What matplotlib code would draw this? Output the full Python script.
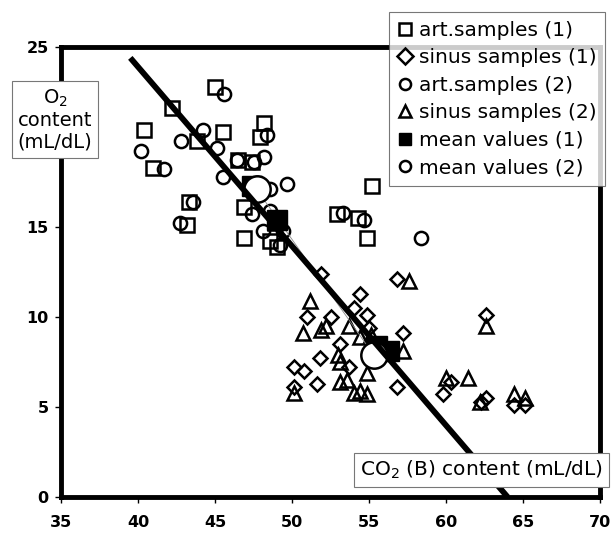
import matplotlib
matplotlib.use("Agg")
import matplotlib.pyplot as plt

# art.samples (1) - squares
art1_x = [45.0, 42.2, 40.4, 41.0, 43.8, 45.5, 43.3, 43.2, 48.2, 47.9, 46.5, 47.4,
          46.9, 46.9, 48.6, 49.0, 48.9, 52.9, 54.3, 54.9, 55.2]
art1_y = [22.8, 21.6, 20.4, 18.3, 19.8, 20.3, 16.4, 15.1, 20.8, 20.0, 18.7, 18.6,
          16.1, 14.4, 14.2, 13.9, 15.2, 15.7, 15.5, 14.4, 17.3]

# sinus samples (1) - diamonds
sin1_x = [51.9, 56.8, 54.4, 54.0, 52.5, 54.9, 51.0, 57.2, 53.1, 51.8, 50.1, 50.8,
          51.6, 50.1, 53.7, 56.8, 59.8, 60.3, 62.6, 62.6, 62.3, 64.4, 65.1, 55.0]
sin1_y = [12.4, 12.1, 11.3, 10.5, 10.0, 10.1, 10.0, 9.1, 8.5, 7.7, 7.2, 7.0,
          6.3, 6.1, 7.2, 6.1, 5.7, 6.4, 10.1, 5.5, 5.3, 5.1, 5.1, 9.4]

# art.samples (2) - circles
art2_x = [45.6, 44.2, 42.8, 40.2, 41.7, 45.1, 45.5, 43.6, 42.7, 48.4, 46.4, 47.5,
          48.2, 49.7, 48.6, 48.6, 47.4, 48.1, 49.4, 49.2, 53.3, 54.7, 58.4]
art2_y = [22.4, 20.4, 19.8, 19.2, 18.2, 19.4, 17.8, 16.4, 15.2, 20.1, 18.7, 18.6,
          18.9, 17.4, 17.1, 15.9, 15.7, 14.8, 14.8, 14.0, 15.8, 15.4, 14.4]

# sinus samples (2) - triangles
sin2_x = [51.2, 57.6, 50.7, 51.9, 52.2, 53.7, 54.4, 55.1, 57.2, 53.1, 53.0, 54.9,
          53.6, 53.1, 50.1, 54.0, 54.4, 54.9, 62.6, 60.0, 61.4, 64.4, 65.1, 62.2]
sin2_y = [10.9, 12.0, 9.1, 9.3, 9.5, 9.5, 8.9, 9.0, 8.1, 7.5, 7.9, 6.9,
          6.5, 6.4, 5.8, 5.8, 5.9, 5.7, 9.5, 6.6, 6.6, 5.7, 5.5, 5.3]

# mean values
mean1_x = [47.4, 49.0, 55.5, 56.3]
mean1_y = [17.3, 15.4, 8.4, 8.1]
mean2_x = [47.7, 55.3]
mean2_y = [17.1, 7.9]

# regression line
fit_x = [39.5, 64.0]
fit_y = [24.4, 0.0]

fig = plt.figure(figsize=(6.12, 5.35), dpi=100)
ax = fig.add_axes([0.0997, 0.071, 0.8807, 0.841])

common = dict(linestyle="none", markerfacecolor="none", markeredgecolor="black",
              markeredgewidth=1.8)
ax.plot(art1_x, art1_y, marker="s", markersize=10, label="art.samples (1)", **common)
ax.plot(sin1_x, sin1_y, marker="D", markersize=7.5, label="sinus samples (1)", **common)
ax.plot(art2_x, art2_y, marker="o", markersize=9.5, label="art.samples (2)", **common)
ax.plot(sin2_x, sin2_y, marker="^", markersize=10.5, label="sinus samples (2)", **common)

ax.plot(mean2_x, mean2_y, color="#888888", lw=0.6, zorder=3)
ax.plot(mean1_x, mean1_y, linestyle="none", marker="s", markersize=14,
        color="black", label="mean values (1)", zorder=4)
ax.plot(mean2_x, mean2_y, linestyle="none", marker="o", markersize=19,
        markerfacecolor="white", markeredgecolor="black", markeredgewidth=1.8,
        label="mean values (2)", zorder=5)
ax.plot(fit_x, fit_y, color="black", lw=4.2, solid_capstyle="butt", zorder=6)

ax.set_xlim(35, 70)
ax.set_ylim(0, 25)
ax.set_xticks(range(35, 71, 5))
ax.set_yticks(range(0, 26, 5))
for s in ax.spines.values():
    s.set_linewidth(3.5)
ax.tick_params(direction="out", length=4, width=1, labelsize=11.5)
ax.tick_params(axis="x", pad=9)
ax.tick_params(axis="y", pad=5)
for lab in ax.get_xticklabels() + ax.get_yticklabels():
    lab.set_fontweight("bold")

handles, labels = ax.get_legend_handles_labels()
leg = fig.legend(handles, labels, loc="upper right", bbox_to_anchor=(0.989, 0.978),
                 fontsize=14.5, frameon=True, fancybox=False, borderpad=0.45,
                 labelspacing=0.42, handlelength=0.7, handletextpad=0.3,
                 borderaxespad=0.0)
leg.get_frame().set_edgecolor("#555555")
leg.get_frame().set_linewidth(0.8)
for h in leg.legend_handles:
    h.set_markersize(8)
leg.set_zorder(10)

box = dict(boxstyle="square,pad=0.3", fc="white", ec="#777777", lw=0.8)
fig.text(0.090, 0.776, "O$_2$\ncontent\n(mL/dL)", ha="center", va="center",
         fontsize=14, linespacing=1.15, bbox=box, zorder=10)
fig.text(0.786, 0.121, "CO$_2$ (B) content (mL/dL)", ha="center", va="center",
         fontsize=14.5, bbox=box, zorder=10)

fig.savefig("out.png", dpi=100)
